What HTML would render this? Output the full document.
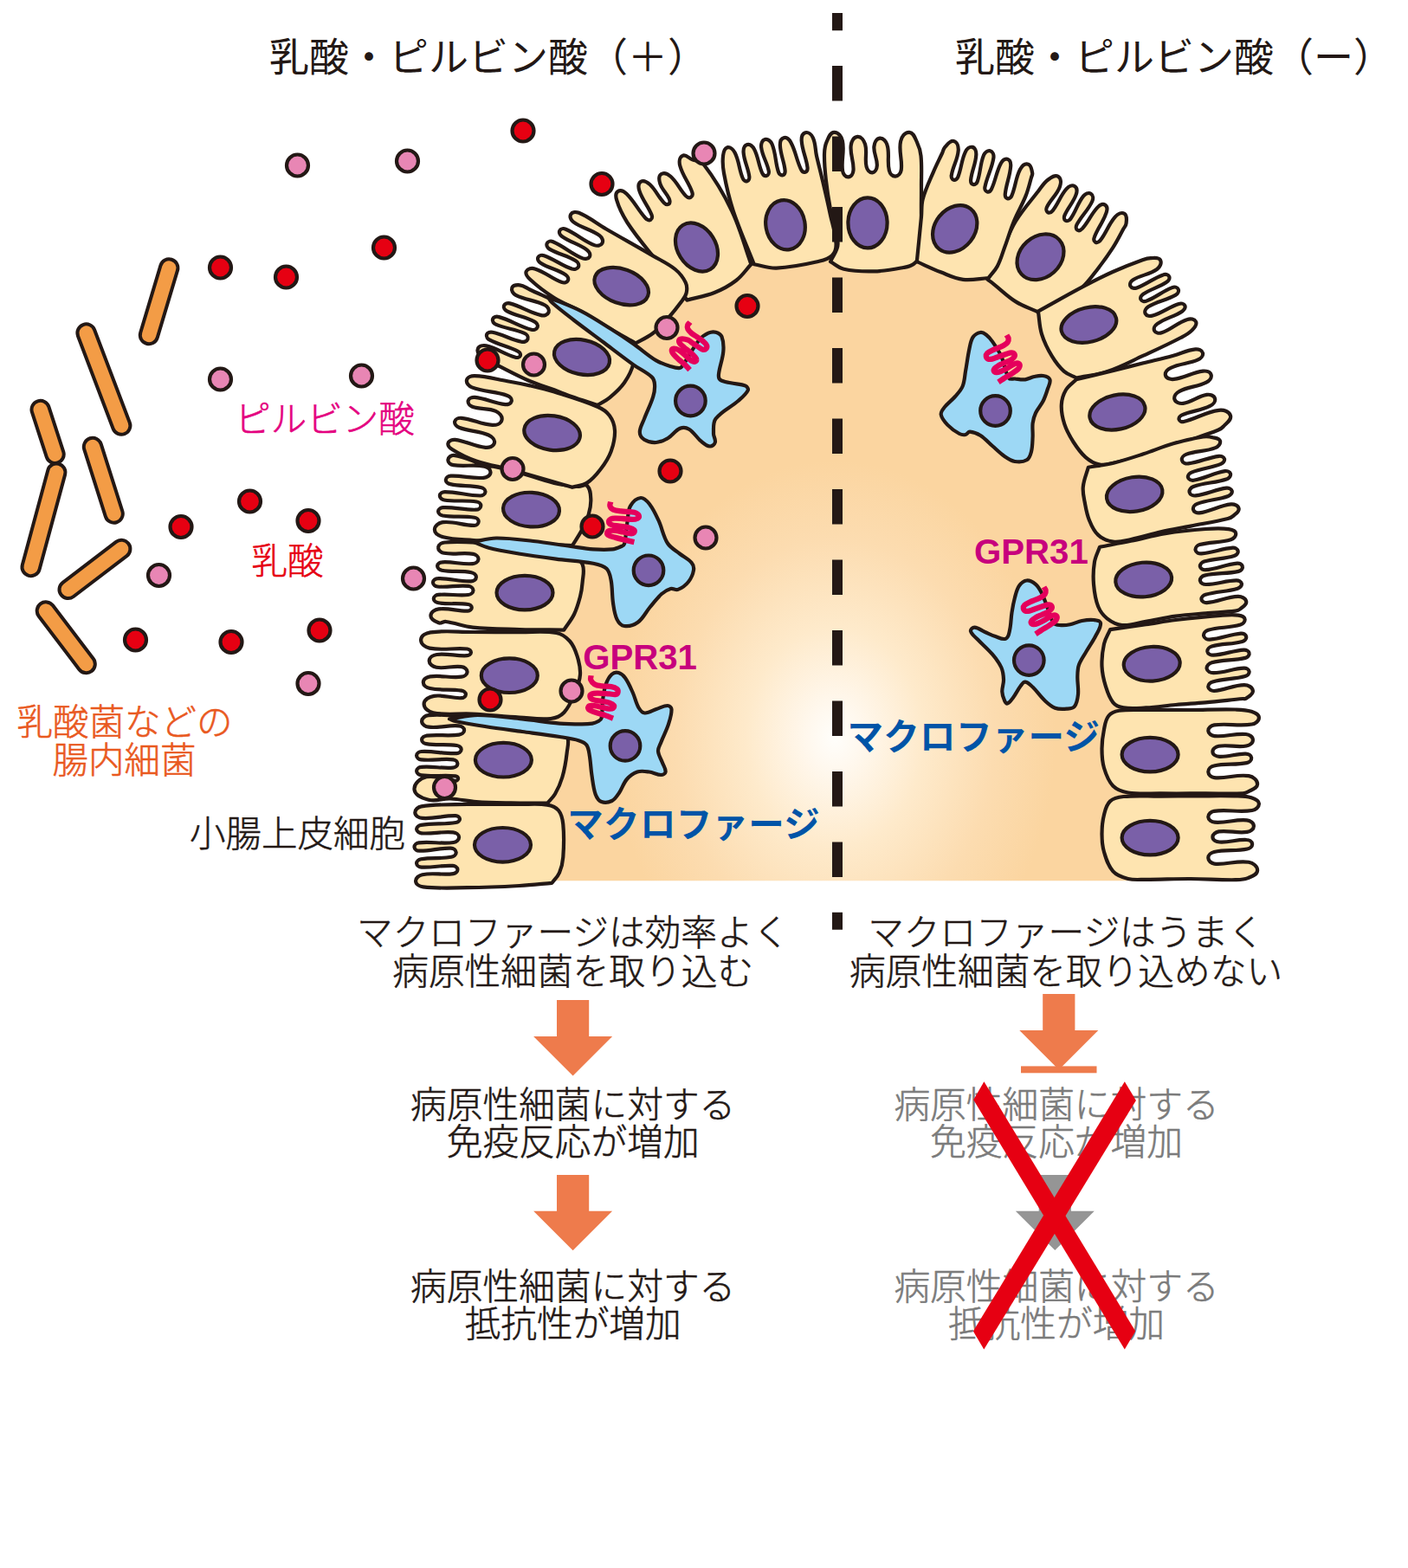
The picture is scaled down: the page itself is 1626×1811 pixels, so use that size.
<!DOCTYPE html>
<html lang="ja"><head><meta charset="utf-8"><title>乳酸・ピルビン酸とマクロファージ</title>
<style>
html,body{margin:0;padding:0;background:#fff}
body{width:1626px;height:1811px;overflow:hidden}
svg{display:block}
text{font-family:"Liberation Sans","Noto Sans CJK JP",sans-serif}

</style></head><body>
<svg width="1626" height="1811" viewBox="0 0 1626 1811">
<defs><radialGradient id="g" gradientUnits="userSpaceOnUse" cx="0" cy="0" r="1" gradientTransform="translate(964 852) scale(255 320)"><stop offset="0" stop-color="#FFFEFB"/><stop offset="0.12" stop-color="#FFF8EE"/><stop offset="0.4" stop-color="#FEEACB"/><stop offset="0.72" stop-color="#FCDCB0"/><stop offset="1" stop-color="#FBD5A0"/></radialGradient></defs>
<path d="M600 1017.3L590 880L595 780L606 684L613 588L638 500L673 412L717 331L804 286L907 262L1003 258L1103 264L1201 297L1258 374L1291 474L1310 570L1321 670L1330 769L1328 871L1328 1017.3Z" fill="url(#g)"/>
<path d="M488.7 1024.3C484.9 1023.8 480.4 1021.7 480.1 1017.8C479.8 1014 483.9 1010.9 487.7 1010.2C500.3 1007.6 510.7 1011 523.5 1009.1C526 1008.7 528.6 1006.6 528.4 1004.2C528.2 1001.7 525.4 1000.1 522.9 999.9C509.9 999.1 499.8 1002.4 486.8 1001.6C484.2 1001.4 481.3 999.8 481.1 997.3C480.9 994.7 483.7 992.7 486.2 992.2C498.6 989.9 508.8 992.2 521.2 989.8C523.9 989.3 526.9 987.1 526.7 984.4C526.5 981.6 523.4 979.7 520.6 979.6C507.5 979.1 497.3 983.1 484.1 982.7C481.6 982.6 478.6 980.9 478.5 978.3C478.4 975.7 481.1 973.6 483.6 973.3C498 971.6 509.5 975 523.8 973C526.9 972.6 530.2 970.1 530.1 966.9C530 963.8 526.5 961.7 523.3 961.4C510.2 960 499.8 963.4 486.6 962.3C484.1 962.1 481.2 960.3 481.1 957.7C481 955.2 483.8 953.3 486.4 952.9C500.7 950.5 512.2 952.3 526.5 950C528.7 949.7 531.1 948.1 531 945.9C530.9 943.7 528.4 942.3 526.2 942.2C512.2 941.9 501.4 946 487.5 944.9C483.8 944.7 479.5 942.4 479.3 938.7C479.1 935 483 932 486.6 931.4C505.6 928.4 520.8 929.4 540 929C561.6 928.5 578.4 928.9 600 929C611.5 929.1 620.6 927.8 632 929.6C637.2 930.4 641.7 932 645 936C648.8 940.7 649.7 946 650.3 952C651.6 965.6 651.3 976.4 650.3 990C649.8 996.6 648.6 1001.9 646 1008C643.9 1012.8 640.5 1015.6 637.4 1019.8C623.9 1021 613.5 1022.3 600 1023C578.4 1024.2 561.6 1025 540 1025.2C521.5 1025.4 507.1 1026.5 488.7 1024.3Z" fill="#FEE4B0" stroke="#231815" stroke-width="4.2" stroke-linejoin="round"/>
<ellipse cx="580.5" cy="975.8" rx="32.5" ry="19.8" transform="rotate(0 580.5 975.8)" fill="#7A60A8" stroke="#231815" stroke-width="4.2"/>
<path d="M494.9 923.7C487.8 921.9 479.1 919.1 478.5 911.8C477.9 904.6 485.4 898.8 492.5 897.3C504.5 894.7 514.1 901.2 526.3 901.8C527.8 901.8 529.2 900.3 529.1 898.9C529 897.5 527.5 896.4 526.1 896.3C511.9 895.1 500.7 897.1 486.5 895.3C484 895 481.1 893.2 481.1 890.6C481.1 888 483.9 886.1 486.5 885.9C499.6 884.6 510 887.8 523.2 886.6C525.7 886.4 528.4 884.5 528.4 882C528.4 879.5 525.8 877.6 523.3 877.3C510.1 875.9 499.6 878.9 486.4 877.4C483.8 877.1 481 875.1 481.1 872.6C481.2 870 484.1 868.1 486.6 868C501.3 867.2 512.7 870.8 527.3 870.1C529.8 870 532.7 868.2 532.7 865.6C532.7 863.1 529.9 861.4 527.4 861C515 859 504.9 861.2 492.5 859.1C489.9 858.7 487.1 857 487.1 854.4C487.1 851.8 490 850.1 492.5 849.7C506 847.9 516.7 850.6 530.1 848.6C532.9 848.2 536.1 846.3 536.1 843.5C536.1 840.7 532.9 838.7 530.1 838.4C517.5 837.2 507.5 841.2 495 839.7C491.3 839.2 487.1 836.7 487.1 833C487.1 829.3 491.1 826.5 494.8 826.1C511 824.6 523.8 826.8 540 828C561.6 829.6 578.4 831.4 600 834C614.5 835.7 625.9 836.4 640 840C645.8 841.5 652 842.6 654.6 848C658.1 855.1 655.4 862.1 654.6 870C653.5 880 652.2 887.8 649.4 897.5C647.3 904.8 644.8 910.4 641 917C638.5 921.3 635.4 923.8 632.2 927.6C617 927.5 605.2 927.7 590 927.4C575.6 927.1 564.4 927 550 926C539.2 925.2 530.9 923 520 922.5C510.9 922.1 503.6 925.9 494.9 923.7Z" fill="#FEE4B0" stroke="#231815" stroke-width="4.2" stroke-linejoin="round"/>
<ellipse cx="581.4" cy="877.7" rx="32.5" ry="19.8" transform="rotate(0 581.4 877.7)" fill="#7A60A8" stroke="#231815" stroke-width="4.2"/>
<path d="M500.3 823.2C495.1 822.1 489.4 818.3 489.6 813C489.8 807.7 495.9 804.6 501.2 803.8C512.4 802 521.3 806.8 532.7 806.2C535.1 806.1 537.8 804.5 537.9 802.1C538 799.7 535.3 798 532.9 797.6C520 795.4 509.3 797.8 496.5 795C492.8 794.2 488.7 791.8 488.8 788C488.9 784.3 493 782 496.7 781.4C509.6 779.6 520 783.3 532.9 781.7C536 781.3 539.5 779.2 539.6 776.1C539.7 772.9 536.3 770.5 533.2 770.1C522.8 768.5 514.3 772.7 503.9 770.8C499.9 770 495.5 767.1 495.7 763.1C495.9 759 500.4 756.6 504.4 756C516.9 754.4 526.8 758 539.4 757.2C541.5 757.1 543.8 755.7 543.9 753.6C544 751.5 541.8 749.8 539.7 749.5C524.1 747.9 511.5 751.7 496.1 748.6C491.1 747.7 485.8 743.9 486.1 738.9C486.4 733.9 492.2 731.2 497.1 730.4C514.2 727.8 527.8 730 545 730C564.8 730 580.2 730 600 730.2C615.3 730.4 627.4 728.3 642.5 731C648.9 732.1 653.6 735.6 658 740.5C662.7 745.7 664.5 751.2 666.6 757.8C668.9 765.2 670.5 771.3 670 779C669.5 786.8 667.1 792.8 664 800C660.4 808.6 657.9 815.9 651.5 822.7C647.3 827.2 642.1 829.3 636 830C623.1 831.5 612.9 829.3 600 828.5C580.2 827.3 564.8 825.6 545 824.5C528.9 823.6 516.1 826.5 500.3 823.2Z" fill="#FEE4B0" stroke="#231815" stroke-width="4.2" stroke-linejoin="round"/>
<ellipse cx="588.3" cy="780.2" rx="32.5" ry="19.8" transform="rotate(0 588.3 780.2)" fill="#7A60A8" stroke="#231815" stroke-width="4.2"/>
<path d="M506.5 719.3C502.4 717.8 497.4 715.7 497.4 711.3C497.4 707 502.3 704 506.6 703.4C518.7 701.8 528.2 706.1 540.4 705.6C542.5 705.5 544.8 703.9 544.8 701.8C544.8 699.7 542.5 698.3 540.5 698C528.2 696.2 518.4 698.3 506.2 696.3C503.6 695.9 500.8 694.1 500.8 691.5C500.8 688.9 503.7 687.2 506.2 686.9C518.6 685.5 528.4 688.5 540.7 687C543.4 686.7 546.4 684.8 546.5 682C546.6 679.3 543.7 677.2 540.9 676.9C528.2 675.4 518 678.8 505.2 677.5C502.7 677.2 499.9 675.2 500 672.6C500.1 670 503 668.1 505.6 668.1C519.4 667.7 530.1 671.9 543.9 671.4C546.7 671.3 549.8 669.4 549.9 666.6C550 663.8 547.1 661.8 544.4 661.2C532.3 658.8 522.3 661 510.2 658.7C507.7 658.2 505 656.3 505.1 653.7C505.2 651.1 508.2 649.5 510.8 649.3C523.4 648.5 533.2 652.2 545.8 651.1C548.8 650.9 552.3 649 552.5 645.9C552.7 642.9 549.5 640.5 546.5 639.9C534.5 637.8 524.7 641.1 512.7 638.8C509.4 638.2 505.8 635.5 506.1 632.2C506.3 628.8 510.3 626.9 513.6 626.5C528.4 624.9 540.1 626 555 627C574.9 628.3 590.3 630.4 610 633C628.1 635.4 642.6 635.7 660 641C665.8 642.8 670.4 646.4 672.7 652C675.4 658.7 673.2 664.8 672.7 672C672.2 678.2 671.6 683 670 689C668 696.5 666.4 702.5 663 709.5C659.6 716.5 655.4 721.1 651.2 727.6C632.8 727.4 618.4 727.5 600 727C580.5 726.4 565.4 726.6 546 724.6C534.7 723.4 526.3 719.5 515 718C511.9 717.6 509.4 720.5 506.5 719.3Z" fill="#FEE4B0" stroke="#231815" stroke-width="4.2" stroke-linejoin="round"/>
<ellipse cx="606" cy="684.6" rx="32.5" ry="19.8" transform="rotate(0 606 684.6)" fill="#7A60A8" stroke="#231815" stroke-width="4.2"/>
<path d="M511.8 620.3C507.3 619 501.9 616.5 501.9 611.8C501.9 607.1 507 603.7 511.7 603.2C524.6 601.8 534.7 607.1 547.7 606.9C550.1 606.8 552.6 604.9 552.7 602.5C552.8 600.1 550.3 598.2 547.9 597.8C534.9 595.6 524.3 597.8 511.2 595.5C508.7 595 505.9 593 506.1 590.4C506.3 587.9 509.2 586.2 511.8 586.1C525.5 585.5 536.1 589.2 549.7 588.7C552.3 588.6 555.1 587 555.3 584.4C555.5 581.9 552.9 579.9 550.4 579.5C537.1 577.3 526.2 579.7 512.9 577.5C510.4 577.1 507.7 574.9 507.9 572.4C508.1 569.8 511.1 568.1 513.7 568.1C528.5 568.1 539.8 572.5 554.6 572.5C557.2 572.5 560.3 570.8 560.5 568.1C560.7 565.5 557.8 563.6 555.2 563C542.8 560.2 532.4 561.9 519.9 559.1C517.4 558.6 514.7 556.7 514.8 554.1C514.9 551.5 517.9 549.9 520.5 549.7C534.2 549 544.9 553 558.5 551.8C562.1 551.5 566.3 549.2 566.5 545.6C566.7 542 562.9 539.3 559.3 538.6C546.6 536 536.2 539.4 523.5 537.1C520.4 536.6 517.2 534.2 517.4 531.1C517.6 528.1 521.1 525.5 524.2 525.9C537.5 527.7 546.9 533.4 560 536.8C571.4 539.7 580.6 540.5 592 543.5C609.4 548.1 622.5 553.7 640 558C649.9 560.4 657.8 561.2 668 562C671.6 562.3 675.5 558.4 678 561C682.1 565.1 682 570.7 682.3 576.5C682.6 582.8 681.6 587.8 679.8 593.8C677.8 600.6 675.3 605.7 672 612C668.5 618.7 665 623.5 661 630C639 628.9 622 628.2 600 627C580.9 626 566.1 625.5 547 624C534.3 623 524.1 623.6 511.8 620.3Z" fill="#FEE4B0" stroke="#231815" stroke-width="4.2" stroke-linejoin="round"/>
<ellipse cx="613.5" cy="588.6" rx="32.5" ry="19.8" transform="rotate(3 613.5 588.6)" fill="#7A60A8" stroke="#231815" stroke-width="4.2"/>
<path d="M712.2 231.2C711.1 227.6 710.5 223 713.6 221C716.7 218.9 720.8 221.1 723.5 223.7C732.8 232.8 736.9 242.7 745.7 252.2C747.2 253.7 749.6 254.9 751.4 253.8C753.2 252.6 753.2 249.9 752.4 247.9C748.3 237.6 741.8 231 738.4 220.4C737.2 216.7 736.8 211.8 740.1 209.8C743.4 207.7 747.5 210.4 750.4 213C757.4 219.4 759.9 227 766.5 233.9C768 235.4 770.4 236.8 772.2 235.7C773.9 234.5 773.6 231.7 772.8 229.7C769.9 223 764.6 219.2 762.4 212.3C761.1 208.4 760.2 203.4 763.5 201.1C766.8 198.8 771.4 201.1 774.4 203.8C782.2 210.6 784.9 219 792.1 226.4C793.6 227.9 796.1 228.9 797.9 227.8C799.7 226.7 800 224.1 799.3 222C795.4 210.6 788.4 203.2 785.3 191.5C784.2 187.3 784.4 181.7 788.3 179.8C792.1 177.8 795.4 182.8 799.5 184.3C804 186.1 809.1 185.2 812 189C826 207.1 835.2 222.6 845 243.3C855.2 264.7 859.3 283 867.4 305.3C861.1 312 857.3 318.4 850 324C841.8 330.3 834.6 334.2 825 338C814 342.4 804.7 343.5 793.3 346.6C787.1 337 783 329 776 320C768.1 309.8 760.2 303.3 752 293.3C741.6 280.6 733.3 270.8 724.4 257C718.9 248.3 715.1 241 712.2 231.2Z" fill="#FEE4B0" stroke="#231815" stroke-width="4.2" stroke-linejoin="round"/>
<ellipse cx="804.5" cy="285.5" rx="30" ry="22" transform="rotate(58 804.5 285.5)" fill="#7A60A8" stroke="#231815" stroke-width="4.2"/>
<path d="M1210.4 207.5C1213.9 204.9 1218.2 201.5 1221.9 203.8C1225.6 206.1 1225.4 211.6 1223.9 215.7C1220.5 225.2 1213.2 230.2 1208.9 239.3C1208 241.3 1208.1 244.1 1209.9 245.2C1211.8 246.3 1214.2 245 1215.6 243.3C1222.3 234.9 1224.4 226.1 1231.6 218.1C1233.9 215.5 1237.9 213.2 1240.9 215C1244 216.8 1243.8 221.4 1242.7 224.7C1239.5 234.1 1233.2 239.7 1229.4 248.9C1228.6 250.8 1228.7 253.6 1230.5 254.7C1232.3 255.8 1234.9 254.6 1236.2 252.9C1242.7 244.1 1244.3 234.9 1251.2 226.4C1253.3 223.9 1257 222 1259.8 223.7C1262.6 225.4 1262.6 229.6 1261.3 232.5C1256.4 243.3 1248.7 249.4 1243.3 259.9C1242.4 261.8 1242.5 264.7 1244.3 265.8C1246.1 266.9 1248.5 265.5 1250 263.9C1257.2 255.8 1260.1 247.3 1267.6 239.4C1269.8 237.1 1273.4 235 1276.1 236.6C1278.9 238.3 1278.7 242.4 1277.7 245.4C1274.2 256.2 1267.9 263.1 1263.9 273.8C1263.1 275.8 1263.1 278.5 1264.9 279.6C1266.8 280.7 1269.2 279.4 1270.6 277.7C1277.8 268.6 1280.1 259 1287.9 250.4C1290.6 247.4 1295.1 244.8 1298.5 246.8C1302 248.9 1300.9 253.8 1300.6 257.8C1300.4 260.7 1298.4 262.5 1297 265C1292.8 272.8 1289.8 279 1285 286.4C1279.2 295.4 1274.3 302.1 1267.8 310.5C1261.3 318.9 1256.6 325.8 1248.8 333C1241.1 340.1 1234.2 344.9 1225 350C1216.1 354.9 1208.3 356.7 1198.9 360.5C1189.6 356.1 1181.7 353.9 1173 348.4C1163 342 1156.5 335.2 1147.2 327.8C1144.8 325.9 1142.8 324.5 1140.3 322.6C1144 317 1147.7 313 1150.7 307C1154.6 299.3 1155.9 292.6 1159.3 284.7C1163.9 274 1166.9 265.3 1173 255.4C1181.2 242.2 1189.4 233.2 1198.9 221C1202.8 216 1205.3 211.3 1210.4 207.5Z" fill="#FEE4B0" stroke="#231815" stroke-width="4.2" stroke-linejoin="round"/>
<ellipse cx="1201.5" cy="296.8" rx="29.5" ry="23.5" transform="rotate(-42 1201.5 296.8)" fill="#7A60A8" stroke="#231815" stroke-width="4.2"/>
<path d="M522.5 519.3C519.8 517.6 516.7 515 517.5 511.9C518.4 508.7 522.4 507.6 525.6 507.9C538.5 509.4 547.7 515.7 560.6 516.8C564.7 517.2 569.9 515.8 570.9 511.8C571.9 507.8 568 504.2 564.2 502.5C552.7 497.4 542 498.4 530.2 493.7C527.4 492.5 524.5 489.8 525.2 486.8C525.9 483.8 529.7 482.5 532.8 482.8C545.9 484 555.4 490.3 568.5 490.9C573 491.1 578.5 489.5 579.5 485.1C580.6 480.8 576.6 476.7 572.5 474.8C563.5 470.8 554.8 473.3 545.5 469.8C542.7 468.7 540 465.7 540.7 462.7C541.5 459.8 545.3 458.6 548.4 458.9C561.3 460.3 570.6 465.7 583.5 467.1C586.4 467.4 590 466.3 590.7 463.5C591.4 460.7 588.8 457.9 586 456.9C571.7 451.9 559.2 452.8 545 447.4C541.6 446.1 538.2 442.6 539 439C539.9 435.4 544.5 434.1 548.2 434.2C562 434.6 572.4 437.8 586 440.2C595.4 441.8 602.7 443.3 612 445.4C622.1 447.7 630.1 449.5 640 452.6C658.2 458.3 672.5 462.3 690 469.8C695.7 472.2 700.2 475 703.9 480C707.8 485.3 709.7 490.7 710 497.3C710.4 506.1 708.7 513.1 705.6 521.4C702.6 529.5 698.7 535.2 693.5 542C688.7 548.3 684.7 553.4 678 557.6C672.5 561.1 667 560.9 660.8 562.8C636 555.7 616.9 549.8 592 543C577 538.9 564.8 537.5 550 532.5C539.6 529 531.8 525.2 522.5 519.3Z" fill="#FEE4B0" stroke="#231815" stroke-width="4.2" stroke-linejoin="round"/>
<ellipse cx="637.6" cy="500" rx="32.5" ry="19.8" transform="rotate(8 637.6 500)" fill="#7A60A8" stroke="#231815" stroke-width="4.2"/>
<path d="M556.6 412.1C553.7 409.8 550.4 406.4 551.8 403C553.1 399.5 557.8 398.6 561.5 399.4C574.2 402.3 582.7 409.1 595.3 412.7C597.3 413.3 600.1 412.7 600.9 410.7C601.6 408.7 599.8 406.5 597.9 405.6C586.7 399.9 576.6 398.5 565.6 392.7C563.3 391.5 561.2 388.9 562 386.5C562.8 384 566.1 383.3 568.6 383.8C581.1 386.3 589.7 392.2 602.2 394.7C605 395.2 608.6 394.4 609.5 391.7C610.4 389 608.2 386 605.6 384.9C594.3 379.7 583.9 379.8 572.5 374.7C570.2 373.7 568.1 370.9 569 368.5C569.8 366.1 573.2 365.2 575.6 365.9C589.8 369.7 599.4 376.9 613.6 380.7C616.3 381.4 619.8 380.5 620.7 377.9C621.6 375.3 619.4 372.6 617 371.3C606.2 365.6 596.2 364.9 585.5 359.3C583.2 358.1 581.1 355.4 582 353C582.9 350.6 586.2 349.8 588.7 350.4C602.2 353.9 611.3 361 624.9 364.1C628.1 364.9 632.4 363.9 633.6 360.8C634.8 357.6 632.3 354 629.4 352.5C618 346.5 607 346.8 595.6 340.8C592.6 339.2 590.1 335.5 591.3 332.4C592.6 329.3 596.9 329 600.3 329.3C604.9 329.8 607.8 332.6 612 334.5C629.3 342.5 642.9 348.4 660 357C686.6 370.3 706.8 381.5 733.2 395.3C732.6 404.2 733.8 411.4 731.5 420C729.3 428.5 726 434.8 721 442C716 449.2 710.6 453.8 703.9 459.4C699.4 463.2 695 464.9 690 468C679.2 464.4 670.7 461.8 660 458C652.7 455.4 647.2 453 640 450.3C630 446.6 621.8 444.5 612 440.3C599.3 434.8 589.8 429.7 577.5 423.4C569.9 419.5 563.3 417.4 556.6 412.1Z" fill="#FEE4B0" stroke="#231815" stroke-width="4.2" stroke-linejoin="round"/>
<ellipse cx="672" cy="412.5" rx="32.5" ry="19.8" transform="rotate(12 672 412.5)" fill="#7A60A8" stroke="#231815" stroke-width="4.2"/>
<path d="M612.2 322.8C609.5 320.3 606.3 316.9 607.7 313.5C609.2 310.1 614 309.3 617.6 310.4C629.7 314 637.1 321.9 649 326.1C651.5 326.9 654.9 326.2 655.9 323.9C657 321.5 655.2 318.6 653 317.2C643.4 311.1 633.9 309.9 624.3 303.7C622.1 302.4 620.3 299.5 621.4 297.2C622.5 294.9 625.9 294.4 628.3 295.2C640.4 299.4 648.3 306.5 660.4 310.6C663.1 311.4 666.7 310.9 667.9 308.4C669.1 305.9 667.3 302.7 664.9 301.2C654.8 294.9 644.7 293.8 634.5 287.6C632.3 286.2 630.6 283.2 631.8 280.9C632.9 278.6 636.3 278.2 638.7 279.2C651.7 284.7 659.8 293.1 672.9 298.4C675.6 299.5 679.5 299 680.9 296.4C682.2 293.7 680.3 290.4 677.9 288.7C668.4 281.7 658.6 279.9 648.9 273C646.8 271.5 645.1 268.6 646.4 266.3C647.6 264 651 263.7 653.3 264.7C665.9 270 673.6 278.2 686.3 283.1C689.4 284.3 693.8 284 695.4 281C697.1 278.1 695.2 274.1 692.5 272.1C682.6 264.8 672 263.7 662.2 256.4C659.4 254.4 657.5 250.4 659.2 247.5C660.9 244.6 665.3 244.5 668.5 245.8C680.7 250.9 688.6 257.9 700 264.5C719.3 275.7 734.6 284.1 753.9 295.4C763.3 300.9 771.3 304.1 779.7 311C785.2 315.5 788.8 320 791.8 326.4C793.7 330.4 793.6 334.2 792.6 338.5C791.6 342.7 789.1 345.3 786.6 348.8C781.1 356.3 776.5 362 770.2 369C764.7 375.1 760.4 380 753.9 385C747.3 390 741.2 392.4 734 396.5C724.1 390.8 716.3 386.6 706.5 380.8C693.9 373.4 684.5 367.1 671.7 360C660.5 353.8 650.8 350.8 640 344C629.3 337.3 621.4 331.4 612.2 322.8Z" fill="#FEE4B0" stroke="#231815" stroke-width="4.2" stroke-linejoin="round"/>
<ellipse cx="717.7" cy="330.7" rx="32.5" ry="19.8" transform="rotate(20 717.7 330.7)" fill="#7A60A8" stroke="#231815" stroke-width="4.2"/>
<path d="M835 180.2C835.5 176.3 835.9 171.5 839.6 170.4C843.3 169.4 846.8 172.8 848.6 176.3C853.7 186.2 853.4 195.7 857.8 206C858.6 207.9 860.7 209.8 862.8 209.2C864.8 208.6 865.6 206 865.3 203.8C864 193.6 859.3 186.3 858.6 176C858.4 172.4 859.4 168 862.8 167C866.2 166 869.4 169.3 871.1 172.4C875.9 181.6 875.8 190.3 880.2 199.8C881.1 201.7 883.1 203.6 885.2 203C887.2 202.5 888.2 199.8 887.8 197.7C885.9 187.4 880.3 180.3 879.1 169.9C878.7 166.4 880 161.9 883.4 161C886.9 160.1 890.3 163.3 891.6 166.5C896.2 177.6 895.2 187.7 899.1 199C899.8 201 902 202.9 904.1 202.3C906.1 201.7 906.8 199.1 906.6 196.9C905.6 186.4 901.3 178.7 900.9 168.2C900.7 164.6 901.6 160.2 905 159.2C908.4 158.2 911.6 161.4 913.3 164.6C919 175 919.8 184.9 925 195.6C925.9 197.5 927.9 199.4 930 198.8C932 198.2 932.7 195.5 932.5 193.4C931.1 182.1 926.4 173.9 925.7 162.6C925.5 158.9 926.4 154.3 930 153.2C933.6 152.2 937.1 155.4 938.7 158.8C942.1 165.8 941.3 172.4 943 180C945.4 190.4 947.6 198.5 950 208.9C953.2 222.5 955.7 233.1 958.6 246.8C961.2 259.2 964.9 268.6 965.5 281.2C965.8 286.4 964.7 291.3 961 295C956.6 299.5 951.1 300.6 945 302C927.8 305.9 914.2 308.8 896.6 309.6C887.2 310 880.1 306.8 870.8 305.3C862.1 283 854.2 266 846.7 243.3C841.7 228.1 838.9 215.8 836 200C834.7 193 834.2 187.3 835 180.2Z" fill="#FEE4B0" stroke="#231815" stroke-width="4.2" stroke-linejoin="round"/>
<ellipse cx="907" cy="259.7" rx="28.8" ry="22.6" transform="rotate(80 907 259.7)" fill="#7A60A8" stroke="#231815" stroke-width="4.2"/>
<path d="M954.7 163.7C956.7 159.2 958.3 153 963.3 152.8C968.3 152.6 971.9 158 972.9 162.8C975.6 175 971.1 185.2 973.1 197.5C973.6 200.9 976.3 204.6 979.7 204.4C983.2 204.2 985.2 200.1 985.5 196.7C986.3 186.3 981.4 178.3 982.7 168C983.2 163.5 985.7 158.2 990.2 157.9C994.7 157.5 997.8 162.4 999.1 166.7C1001.8 175.6 998.3 183.5 1000.6 192.6C1001.4 195.9 1004 199.6 1007.4 199.3C1010.8 199 1012.6 194.8 1012.8 191.4C1013.4 183.4 1008.6 177.3 1009.4 169.3C1009.8 165.1 1011.9 160.2 1016 159.7C1020.2 159.2 1023.5 163.5 1024.6 167.6C1027.6 177.8 1024.2 186.8 1026.9 197.1C1027.7 200.5 1030.5 203.7 1034 203.6C1037.4 203.5 1040.1 200.1 1040.7 196.7C1042.5 184.7 1037.5 174.9 1040.1 163.1C1041.2 158 1044.9 152.5 1050.1 152.8C1055.2 153.1 1056.6 159.5 1058.9 164.1C1061.5 169.5 1062.9 174.1 1063.5 180C1064.8 192.9 1063.9 203 1064 216C1064.1 228.4 1063.7 238.1 1064 250.5C1064.3 259.8 1065.7 267.1 1065.7 276.4C1065.7 282.6 1066.2 287.8 1064 293.6C1062.2 298.5 1059.2 301.9 1055 305C1051.4 307.7 1047.7 308.2 1043.3 309C1031 311.2 1021.4 313.1 1008.9 313.4C996.4 313.7 986.6 313.5 974.4 310.8C968.2 309.4 964.5 305.3 959 302.2C962.1 294.7 967.6 289.6 967.6 281.5C967.6 266.9 961.7 256.3 959 242C956.7 229.7 955.2 220 953.8 207.5C952.6 196.9 951.8 188.6 952 178C952.1 172.8 952.5 168.5 954.7 163.7Z" fill="#FEE4B0" stroke="#231815" stroke-width="4.2" stroke-linejoin="round"/>
<ellipse cx="1002" cy="257.4" rx="29" ry="22.6" transform="rotate(90 1002 257.4)" fill="#7A60A8" stroke="#231815" stroke-width="4.2"/>
<path d="M1091.3 169.8C1094.3 166.7 1097.1 161.9 1101.4 163C1105.6 164.1 1107 169.6 1106.7 173.9C1106 184.6 1100.4 191.9 1098.8 202.5C1098.4 204.6 1099.3 207.3 1101.4 207.8C1103.4 208.4 1105.4 206.4 1106.3 204.4C1110.4 194.4 1110.1 185.3 1114.8 175.6C1116.3 172.4 1119.4 169.1 1122.9 169.9C1126.3 170.8 1127.5 175.2 1127.3 178.8C1126.8 189.4 1122.2 197.1 1121.1 207.7C1120.9 209.9 1121.7 212.5 1123.8 213C1125.8 213.6 1128 211.7 1128.7 209.7C1132.5 199.1 1131.7 189.7 1136 179.2C1137.3 176.3 1140.3 173.4 1143.5 174.2C1146.6 175.1 1147.8 179.1 1147.4 182.3C1145.6 194.9 1139.8 203.7 1137.4 216.2C1137 218.3 1138 221 1140 221.5C1142.1 222.1 1144.1 220.2 1145 218.3C1149.9 208 1150.5 198.7 1155.8 188.7C1157.4 185.8 1160.2 182.9 1163.3 183.7C1166.4 184.6 1167.4 188.6 1167.2 191.8C1166.4 203.6 1162 212.2 1160.8 224C1160.6 226.1 1161.3 228.7 1163.3 229.3C1165.4 229.9 1167.5 228 1168.3 226.1C1172.9 215.6 1172.7 206 1178 195.8C1179.9 192.3 1183.5 188.6 1187.4 189.7C1191.3 190.8 1191.2 196 1192.2 199.9C1192.6 201.7 1191.5 203.2 1191 205C1188.8 212.7 1187.5 218.9 1184.5 226.4C1180.2 237.2 1175.2 244.9 1170.8 255.7C1166.5 266.1 1164.3 274.5 1160.4 285C1157.4 293.1 1155.8 299.8 1151.8 307.4C1148.9 312.8 1145.2 316.1 1141.5 321C1131 321.7 1122.7 324.2 1112.2 322.9C1102.5 321.7 1095.5 317.8 1086.4 314.3C1076.3 310.4 1068.7 306.6 1058.8 302.2C1060.7 283.4 1062.2 268.8 1064 250C1064.7 242.8 1063.8 236.9 1065.7 229.9C1068.8 218.3 1073.1 209.9 1077.8 198.9C1081.2 190.9 1084.3 184.9 1088 177C1089.2 174.4 1089.4 171.9 1091.3 169.8Z" fill="#FEE4B0" stroke="#231815" stroke-width="4.2" stroke-linejoin="round"/>
<ellipse cx="1102.7" cy="264.3" rx="29.5" ry="23" transform="rotate(-52 1102.7 264.3)" fill="#7A60A8" stroke="#231815" stroke-width="4.2"/>
<path d="M1329 298.1C1333 298.1 1338 296.9 1340 300.4C1341.9 304 1339.4 308.6 1336.1 311C1327.2 317.4 1317.4 317.5 1308.1 323.4C1305.8 324.9 1304.3 328.1 1305.5 330.5C1306.8 332.9 1310.2 333.3 1312.8 332.4C1324.3 328.4 1331.7 321.4 1343.2 317.4C1345.6 316.5 1349 316.9 1350.1 319.2C1351.3 321.5 1349.5 324.4 1347.3 325.8C1338.3 332 1329.2 333.6 1320.1 339.7C1318.1 341.1 1316.4 343.8 1317.5 345.9C1318.6 348.1 1321.8 348.5 1324 347.6C1335.3 343.3 1342.4 336.4 1353.7 332.1C1356.1 331.2 1359.5 331.6 1360.6 333.9C1361.8 336.2 1360.1 339.2 1357.9 340.6C1347.1 346.9 1336.7 347.7 1326 354.2C1323.4 355.9 1321.3 359.4 1322.7 362.2C1324.1 365 1328.1 365.4 1331.1 364.5C1342.6 361.2 1350 354.5 1361.4 350.9C1363.9 350.1 1367.2 350.5 1368.3 352.8C1369.4 355.1 1367.6 357.9 1365.4 359.4C1355.8 365.8 1346.1 367.2 1336.6 373.9C1334 375.7 1331.8 379 1333.1 381.9C1334.4 384.7 1338.5 385.3 1341.5 384.3C1352.9 380.4 1359.7 372.5 1371.2 368.9C1374.7 367.7 1379.5 368.3 1381.1 371.7C1382.7 375.1 1379.5 378.4 1376.9 381.1C1372.9 385.3 1368.7 387.3 1363.6 390C1348.4 398 1336.1 403.5 1320.5 410.7C1305.1 417.8 1293.5 424.3 1277.5 429.6C1265.5 433.6 1255.4 434 1243 436.5C1237.9 433.8 1233.1 432.7 1228.8 428.9C1222.9 423.6 1219.1 418.5 1215 411.7C1209.7 402.9 1206 395.6 1203 385.8C1200.2 376.7 1200.4 369 1198.9 359.6C1217.5 349.4 1231.8 341.1 1250.5 331.2C1262.8 324.7 1272.3 319.7 1285 314C1297.2 308.5 1306.9 304.7 1319.4 300.2C1322.7 299 1325.5 298 1329 298.1Z" fill="#FEE4B0" stroke="#231815" stroke-width="4.2" stroke-linejoin="round"/>
<ellipse cx="1257.4" cy="375" rx="32.5" ry="19.8" transform="rotate(-14 1257.4 375)" fill="#7A60A8" stroke="#231815" stroke-width="4.2"/>
<path d="M1380.6 403.4C1383.9 403.1 1388.1 404.4 1389 407.7C1389.8 411 1386.6 414 1383.6 415.4C1372.9 420.4 1362.8 419.6 1352.1 424.8C1348.7 426.4 1344.9 429.8 1346 433.6C1347 437.3 1352 438.4 1355.8 437.9C1368.2 436.5 1376.8 430.1 1389.2 428.6C1392.8 428.2 1397.5 429.3 1398.6 432.8C1399.7 436.4 1396.4 439.9 1393.1 441.6C1382.7 447 1372.6 446.3 1362.2 451.8C1358.7 453.7 1355.3 457.4 1356.4 461.2C1357.5 465 1362.4 466.4 1366.4 465.9C1376.7 464.4 1383.3 457.5 1393.6 455.9C1397.3 455.3 1402 456.7 1403 460.3C1404 463.8 1400.7 467.3 1397.3 468.9C1386.4 474.4 1376.1 474.5 1364.9 479.4C1362.9 480.3 1361 482.4 1361.6 484.5C1362.2 486.6 1364.9 487.5 1367 487C1382 483.5 1392.3 475.7 1407.6 473.8C1412.9 473.1 1419.5 474.9 1421 480.1C1422.4 485.2 1416.3 488.4 1412.9 492.5C1411.1 494.5 1409.1 495.8 1406.6 496.8C1394.4 501.7 1384.6 504.6 1372.2 508.8C1353.6 515.1 1339.3 520.4 1320.5 526C1308.2 529.7 1298.6 532.2 1286 534.7C1279.9 535.9 1275 537.7 1268.9 536.4C1262.7 535.1 1258.2 532 1253.4 527.8C1247.4 522.5 1243.9 517.2 1239.6 510.5C1235.2 503.5 1231.8 497.8 1229.3 489.9C1226.8 482.1 1225.4 475.7 1225.8 467.5C1226.1 461 1227.7 455.9 1231 450.3C1234.1 445 1238.7 442.6 1243 438.2C1258.5 434.5 1270.5 431.7 1286 427.9C1298.4 424.9 1308.1 422.4 1320.5 419.3C1332.9 416.2 1342.6 414 1355 410.7C1364.3 408.3 1371 404.3 1380.6 403.4Z" fill="#FEE4B0" stroke="#231815" stroke-width="4.2" stroke-linejoin="round"/>
<ellipse cx="1290.4" cy="476" rx="32.5" ry="19.8" transform="rotate(-12 1290.4 476)" fill="#7A60A8" stroke="#231815" stroke-width="4.2"/>
<path d="M1400.5 505.2C1403.8 506 1408.1 506.1 1409 509.3C1409.8 512.6 1406.8 515.9 1403.7 517.1C1392 521.8 1381.4 520.5 1369.6 524.9C1366.8 526 1364.2 528.9 1365 531.7C1365.7 534.6 1369.4 535.8 1372.3 535.4C1385.3 533.9 1394.6 528.5 1407.6 526.8C1410.1 526.5 1413.3 527.5 1414 530C1414.6 532.5 1412.3 534.9 1409.9 535.9C1398.2 540.7 1387.8 540.8 1376 545.6C1373.7 546.6 1371.3 549 1372 551.5C1372.6 554 1375.9 555.1 1378.4 554.7C1391.8 552.3 1401.2 546.4 1414.5 544.1C1417.1 543.7 1420.3 544.8 1421 547.2C1421.6 549.7 1419.4 552.3 1417 553.2C1403.4 557.9 1391.7 557.2 1378.2 562C1375.4 563 1372.9 565.9 1373.7 568.7C1374.4 571.5 1378 572.7 1380.9 572.4C1393.9 570.9 1403.3 565.4 1416.3 563.7C1418.8 563.4 1422 564.5 1422.7 567C1423.3 569.5 1421 572 1418.5 572.9C1406 577.5 1395.1 577.1 1382.6 581.9C1379.9 582.9 1377.3 585.6 1378 588.5C1378.6 591.3 1382.2 592.8 1385 592.4C1398.6 590.5 1408 583.9 1421.6 582.4C1425.3 582 1429.9 583.7 1430.6 587.3C1431.4 591 1427.2 593.1 1424.5 595.6C1422.5 597.4 1420.6 598.4 1418 599C1402.7 602.7 1390.5 604.5 1375 607.6C1362.6 610.1 1352.9 611.6 1340.5 614.4C1328 617.2 1318.5 620.5 1306 623C1298.7 624.5 1292.8 626.6 1285.4 625.6C1278.7 624.7 1273.2 622.5 1268.2 617.9C1262.8 613.1 1260.6 607.4 1257.9 600.7C1255 593.6 1254.1 587.6 1252.7 580C1251.5 573.7 1250.1 568.6 1250.8 562.2C1251.6 553.9 1254.6 547.9 1256.8 539.8C1267.3 538 1275.6 537.2 1286 534.7C1298.6 531.6 1308.2 528.3 1320.5 524.3C1333 520.2 1342.4 515.9 1355 512.3C1367.2 508.8 1376.9 506.5 1389.4 504.5C1393.4 503.9 1396.6 504.2 1400.5 505.2Z" fill="#FEE4B0" stroke="#231815" stroke-width="4.2" stroke-linejoin="round"/>
<ellipse cx="1310.2" cy="570.8" rx="32.5" ry="19.8" transform="rotate(-9 1310.2 570.8)" fill="#7A60A8" stroke="#231815" stroke-width="4.2"/>
<path d="M1418.9 611.1C1422.3 611.6 1426.5 612.4 1427.1 615.7C1427.8 619 1424.7 622.2 1421.4 623.2C1408.9 627.2 1398 625.4 1385.4 629.1C1382.7 629.9 1380.1 632.6 1380.6 635.4C1381.2 638.2 1384.6 639.6 1387.4 639.4C1400.6 638.6 1410.4 633.7 1423.6 632.7C1426.1 632.5 1429.3 633.8 1429.7 636.4C1430.2 638.9 1427.7 641.2 1425.3 642C1413.1 645.8 1402.7 644.8 1390.5 648.6C1388 649.4 1385.5 651.8 1385.9 654.4C1386.4 657 1389.6 658.4 1392.2 658.2C1405.6 657 1415.4 651.8 1428.8 650.6C1431.4 650.4 1434.5 651.8 1434.9 654.3C1435.4 656.9 1432.9 659.3 1430.4 659.9C1416.5 663.1 1404.9 661.2 1391 664.6C1388.2 665.2 1385.5 667.9 1385.9 670.7C1386.4 673.6 1389.8 675 1392.7 675C1405.5 674.9 1415.1 670.6 1427.9 670.4C1430.4 670.4 1433.5 671.7 1433.9 674.2C1434.3 676.8 1431.8 678.9 1429.3 679.7C1416.3 683.6 1405.2 682.9 1392.2 686.8C1389.7 687.5 1387.1 689.8 1387.5 692.3C1387.9 694.9 1391.1 696.4 1393.7 696.1C1406.9 695.1 1416.5 689.3 1429.7 688.9C1433.7 688.8 1438.6 690.9 1439.2 694.8C1439.9 698.8 1435.1 700.8 1432.1 703.5C1430.4 704.9 1428.7 705.4 1426.6 705.7C1414.3 707.2 1404.6 707.2 1392.2 708.3C1379.8 709.4 1370.1 710 1357.8 711.7C1345.3 713.4 1335.7 715.7 1323.3 717.8C1313.4 719.4 1305.8 722.8 1295.8 722C1289 721.5 1283.9 718.5 1278.5 714.3C1273.6 710.5 1270.5 706.3 1268.2 700.5C1264.7 691.7 1263.8 684.1 1263 674.7C1262.2 665.4 1262.5 658.1 1264 648.9C1265.1 642.4 1267.8 637.9 1270 631.7C1283 629.2 1293.1 627.4 1306 624.8C1320.3 621.9 1331.3 618.5 1345.7 616.2C1362.3 613.5 1375.4 612.2 1392.2 611C1401.8 610.3 1409.4 609.8 1418.9 611.1Z" fill="#FEE4B0" stroke="#231815" stroke-width="4.2" stroke-linejoin="round"/>
<ellipse cx="1320.7" cy="669.5" rx="32.5" ry="19.8" transform="rotate(-5 1320.7 669.5)" fill="#7A60A8" stroke="#231815" stroke-width="4.2"/>
<path d="M1430.1 710.6C1433.1 711 1436.9 711.7 1437.5 714.7C1438.2 717.7 1435.4 720.6 1432.4 721.6C1419.4 725.6 1408.1 723.9 1395.1 727.8C1392.2 728.7 1389.6 731.5 1390.1 734.4C1390.7 737.3 1394.2 738.8 1397.1 738.6C1410.3 737.8 1420 732.7 1433.1 731.6C1435.7 731.4 1438.8 732.8 1439.2 735.4C1439.7 737.9 1437.2 740.2 1434.7 740.9C1422.3 744.4 1411.8 742.9 1399.4 746.5C1396.7 747.3 1394 749.8 1394.4 752.6C1394.9 755.3 1398.3 756.8 1401.1 756.7C1414 756.1 1423.6 751.3 1436.5 750.6C1439.1 750.5 1442.2 751.8 1442.6 754.3C1443.1 756.9 1440.6 759.2 1438.1 759.9C1424.4 763.3 1412.9 761.5 1399.4 765.3C1396.3 766.2 1393.1 769.1 1393.6 772.3C1394.1 775.6 1398 777.2 1401.3 777.2C1414.2 777 1423.7 772.2 1436.6 771.7C1439.1 771.6 1442.2 773 1442.6 775.5C1443 778.1 1440.5 780.3 1438 781C1424.8 784.7 1413.6 783.5 1400.5 787.4C1397.7 788.2 1394.9 790.6 1395.3 793.5C1395.7 796.3 1399.1 798.1 1402 798C1414.8 797.2 1424.1 791.1 1436.9 791.1C1441.2 791.1 1446.4 793.5 1446.9 797.9C1447.4 802.2 1442.2 804.2 1438.8 806.9C1437.8 807.6 1436.6 806.9 1435.3 807C1419.8 808.5 1407.7 809.9 1392.2 811.3C1379.8 812.4 1370.2 812.9 1357.8 814C1345.4 815.1 1335.8 816.7 1323.3 817.4C1314 817.9 1306.7 818.9 1297.5 817.4C1292.7 816.6 1288.5 815.1 1285.4 811.3C1280.6 805.5 1279 799.5 1276.8 792.4C1274.3 784.3 1272.8 777.8 1272.5 769.4C1272.2 760.1 1273 752.7 1275 743.6C1276.4 737.3 1279.5 733.1 1282 727.2C1296.9 725 1308.4 723.4 1323.3 721.2C1335.7 719.4 1345.3 717.5 1357.8 716C1376.3 713.8 1390.8 712.3 1409.4 710.9C1416.8 710.3 1422.7 709.6 1430.1 710.6Z" fill="#FEE4B0" stroke="#231815" stroke-width="4.2" stroke-linejoin="round"/>
<ellipse cx="1330.2" cy="766.8" rx="32.5" ry="19.8" transform="rotate(-3 1330.2 766.8)" fill="#7A60A8" stroke="#231815" stroke-width="4.2"/>
<path d="M1445.1 821.8C1448.9 823.1 1453.7 824.7 1453.9 828.7C1454.1 832.7 1449.8 835.9 1445.8 836.5C1430.3 839.1 1417.7 835.1 1402.2 837.4C1398.8 837.9 1395.1 840.6 1395.3 844.1C1395.5 847.5 1399.3 849.8 1402.8 850.1C1415.7 851.3 1425.9 846.7 1438.9 848C1442.6 848.3 1446.8 850.8 1446.9 854.5C1447 858.2 1443 860.8 1439.4 861.5C1428.1 863.6 1418.7 859.8 1407.4 861.8C1404 862.4 1400.2 864.9 1400.4 868.3C1400.6 871.8 1404.8 873.7 1408.2 873.9C1419.2 874.5 1427.6 870.2 1438.6 870.6C1441.5 870.7 1444.9 872.3 1445.2 875.2C1445.5 878.1 1442.5 880.5 1439.7 881.1C1426.3 883.9 1415.2 881.3 1401.9 884.5C1398.5 885.2 1395.2 888 1395.3 891.5C1395.4 894.9 1398.8 897.8 1402.2 898.1C1416.5 899.6 1427.9 894 1442.1 896.2C1447 897 1452.4 900.9 1452.1 905.9C1451.8 910.9 1445.4 911.8 1441.2 914.5C1439.3 915.7 1437.5 916.3 1435.3 916.4C1419.8 917 1407.7 916.4 1392.2 916.4C1373.6 916.4 1359.1 916.6 1340.5 916.4C1326.9 916.3 1316.1 917.6 1302.7 915.5C1296 914.4 1290.2 912.7 1285.4 907.8C1279.6 901.8 1277.4 895 1275 887C1272.7 879.3 1272.5 872.8 1272.5 864.7C1272.5 856.6 1273.4 850.2 1275 842.3C1276.2 836.5 1276.6 831.4 1280.3 826.8C1283.3 823 1287.5 821.6 1292.3 820.8C1303.3 819.1 1312.1 820.1 1323.3 820C1341.9 819.8 1356.4 820.1 1375 820C1393.6 819.9 1408 819 1426.6 819.5C1433.3 819.7 1438.7 819.7 1445.1 821.8Z" fill="#FEE4B0" stroke="#231815" stroke-width="4.2" stroke-linejoin="round"/>
<ellipse cx="1328.1" cy="871.6" rx="32.5" ry="19.8" transform="rotate(0 1328.1 871.6)" fill="#7A60A8" stroke="#231815" stroke-width="4.2"/>
<path d="M1445 921.3C1448.8 922.5 1453.7 924.1 1453.9 928.1C1454.2 932.2 1449.9 935.3 1445.9 936C1430.4 938.6 1417.7 934.5 1402.1 936.8C1398.7 937.4 1395.2 940.1 1395.3 943.6C1395.5 947 1399.3 949.4 1402.7 949.7C1416.1 950.8 1426.6 946.1 1439.9 947.4C1443.6 947.7 1447.8 950.2 1447.9 954C1448 957.7 1444 960.3 1440.3 960.9C1428.6 962.8 1419.2 958.7 1407.5 960.4C1404.1 961 1400.2 963.5 1400.4 966.9C1400.6 970.4 1404.7 972.3 1408.2 972.5C1419.5 973.4 1428.2 969.3 1439.6 970C1442.5 970.1 1445.8 971.8 1446.1 974.7C1446.4 977.6 1443.4 979.9 1440.5 980.5C1426.9 983.4 1415.5 980.9 1402 984C1398.6 984.8 1395.2 987.5 1395.3 990.9C1395.4 994.4 1398.8 997.2 1402.3 997.6C1416.5 999 1427.9 993.6 1442 995.8C1447 996.6 1452.3 1000.4 1452.1 1005.4C1451.9 1010.4 1445.8 1012.1 1441.2 1014.1C1436.3 1016.2 1431.9 1016.1 1426.6 1016.2C1408 1016.5 1393.6 1015.1 1375 1015C1356.4 1014.9 1341.9 1015.8 1323.3 1015.8C1315.9 1015.8 1309.9 1016.8 1302.7 1015C1295.9 1013.3 1290 1011.6 1285.4 1006.4C1279.5 999.8 1277.5 992.5 1275 984C1272.8 976.8 1272.5 970.8 1272.5 963.3C1272.5 955.2 1273 948.8 1275 941C1276.5 935 1277.5 929.6 1282 925.4C1286.3 921.4 1291.6 920.6 1297.5 920C1312.7 918.5 1324.7 919.7 1340 919.6C1354.4 919.5 1365.6 919.4 1380 919.4C1396.6 919.4 1409.4 918.9 1426 919.4C1432.9 919.6 1438.4 919.3 1445 921.3Z" fill="#FEE4B0" stroke="#231815" stroke-width="4.2" stroke-linejoin="round"/>
<ellipse cx="1328.1" cy="967.6" rx="32.5" ry="19.8" transform="rotate(0 1328.1 967.6)" fill="#7A60A8" stroke="#231815" stroke-width="4.2"/>
<path d="M632.9 343.2C646.1 348.8 658.9 353.1 671.7 359.6C683.8 365.8 694.5 373.1 706 380.3C715 385.9 723.3 391.4 732 397.5C740.9 403.7 748.5 410.8 757.8 416.4C763.2 419.6 769 421.4 775 423.3C778.4 424.4 781.8 425.4 785.3 425C786.9 424.8 787.9 423 788.8 421.6C795.5 411.8 800.4 401.6 807.7 392.3C810.4 388.9 814 386.4 818 384.6C820.7 383.4 823.8 382.9 826.6 383.7C829.4 384.5 832.4 386.2 833.5 388.9C835.6 394.3 835.8 400.2 835.3 406C834.6 415 831 423 830 432C829.7 434.4 829.9 437.4 831.8 438.8C835.2 441.3 839.7 441.3 843.9 442.3C849.7 443.7 855.6 443.3 861 445.7C862.8 446.5 864.6 449.1 863.7 450.9C861.2 455.9 856.7 459.3 852.5 463C844.1 470.4 833.4 474.6 826.6 483.6C823 488.3 824.2 494.9 824 500.8C823.9 504.3 826.8 507.6 825.8 511C825.1 513.5 822.3 515.7 819.8 515.5C815.7 515.1 812.6 512 809.4 509.4C804.3 505.2 801.3 499.1 795.7 495.7C792.7 493.9 788.6 493.4 785.3 494.8C779.7 497.2 776.7 502.9 771.5 506C767.2 508.5 762.7 510.7 757.8 511C753 511.3 748.1 510.3 744 507.7C741.1 505.9 738.8 502.4 738.8 499C738.8 493.5 742.1 488.8 744 483.6C747.3 474.8 751.6 466.8 754.3 457.8C755.7 453.3 756.4 448.7 756 444C755.8 440.9 754.9 437.5 752.6 435.4C746.4 429.6 738.8 426.5 732 421.6C720.1 413.1 709.2 404.6 697.5 395.8C685.8 387 674.6 378.9 663 370C654.1 363.1 645.6 356.8 637.2 349.3C635.3 347.6 634.4 345.3 632.9 343.2Z" fill="#9DD8F5" stroke="#231815" stroke-width="4.2" stroke-linejoin="round"/>
<circle cx="797.4" cy="463" r="17.3" fill="#7A60A8" stroke="#231815" stroke-width="4.2"/>
<path d="M546.4 625.8C555.4 624.3 563.8 621.6 573 621.5C587.7 621.3 601.4 623.4 616 625C630.7 626.6 644.4 629 659 631C667.8 632.2 676.1 633.8 685 634.4C692.6 634.9 699.8 635.2 707.4 634.4C711.1 634 714.3 632.5 717.7 631C719 630.4 720.7 629.8 721 628.4C723.1 619.5 723.2 610.7 724.6 601.7C725.5 595.8 725 589.6 728 584.4C730.6 579.9 734.8 575.4 740 575C744.4 574.7 747.7 579.2 750.4 582.7C754.9 588.5 757.7 595 760.8 601.7C764.7 610.3 765.9 619.5 771 627.5C774.4 632.8 780.1 635.6 784.9 639.5C789.4 643.2 794.8 645.4 798.6 649.9C800.6 652.2 801.5 655.5 801 658.5C800.2 663.5 798.1 668.1 795 672C791.8 676 787.7 679.1 783 680.9C780.3 682 777.3 679.2 774.5 680C770.5 681.1 767.1 683.3 764 686C758.8 690.7 754.9 696.1 750.4 701.5C745.6 707.3 742.7 714.4 736.6 718.8C732.2 722 726.4 723.8 721 723C717.1 722.4 714.2 718.8 712.5 715.3C709.6 709.4 709 702.9 708 696.4C706.7 687.7 707.3 679.2 705.7 670.5C704.8 665.6 704.1 660.2 700.5 656.8C696.4 652.9 690.6 651.8 685 650.7C670.5 647.9 656.6 647.5 642 645.6C627.4 643.7 613.6 641.9 599 639.5C587.2 637.5 576 635.7 564.4 632.7C558.1 631 552.5 628.1 546.4 625.8Z" fill="#9DD8F5" stroke="#231815" stroke-width="4.2" stroke-linejoin="round"/>
<circle cx="749" cy="658.8" r="17.3" fill="#7A60A8" stroke="#231815" stroke-width="4.2"/>
<path d="M519 830.4C530.1 828.9 540.5 826 551.7 826C569.2 826 585.6 828.6 603 830.4C617.8 831.9 631.6 834.3 646.4 835.6C655.1 836.4 663.3 836.4 672 836.4C676.1 836.4 680 836.3 684 835.6C686.5 835.2 688.8 834.3 691 833C692.5 832.1 694.3 831.2 694.6 829.5C696 822.6 695.1 815.9 696 808.9C696.9 802.4 697.6 796.2 699.8 790C701.3 785.8 703.3 781.7 706.6 778.7C708.6 776.9 711.8 776.3 714.4 777C717.6 777.9 720.1 780.3 722 783C725.8 788.3 728.1 794.1 730.8 800C733.4 805.8 734.4 812 737.6 817.5C739.2 820.2 741.4 823.3 744.5 823.5C749.3 823.9 753.4 820.5 758 819C762.4 817.6 766.4 815 771 815C773 815 775.4 817 775.5 819C775.8 825 773.8 830.6 772 836.4C769.7 843.6 766.2 849.9 763.5 857C762.2 860.5 759.8 863.7 760 867.4C760.3 872.3 763.3 876.4 765 881C766.3 884.6 769 887.7 768.6 891.5C768.4 893.6 765.6 895 763.5 895C758.7 895 754.5 892.1 749.7 891.5C745.1 890.9 740.4 890 736 891.5C731.2 893.1 727.2 896.2 723.9 900C719.9 904.6 718.5 910.7 715 915.7C712.6 919.2 710.4 923.1 706.6 925C702.9 926.8 698.4 927.5 694.6 926C691.1 924.6 689 920.9 687.7 917.4C685.1 910.1 684.6 902.7 683.4 895C682.2 887.4 682.1 880.2 680.8 872.6C680.1 868.4 679.8 864 677.4 860.5C675.5 857.7 672.1 856.4 668.8 855.4C661.4 853.1 654.1 852.2 646.4 851C631.7 848.7 617.8 847 603 845C588.4 843 574.6 841.3 560 839C548.3 837.2 537.4 835.4 525.8 833C523.4 832.5 521.3 831.3 519 830.4Z" fill="#9DD8F5" stroke="#231815" stroke-width="4.2" stroke-linejoin="round"/>
<circle cx="722" cy="861.4" r="17.3" fill="#7A60A8" stroke="#231815" stroke-width="4.2"/>
<path d="M1132.3 384C1128.9 384.6 1125.6 386.5 1123.7 389.3C1121 393.3 1120.4 398.2 1119.4 403C1117.5 411.7 1116.6 420.1 1115 428.9C1114 434.7 1114 440.5 1111.7 446C1109.8 450.7 1106.3 454.2 1103 458C1099.2 462.4 1094.6 465.5 1091 470C1088.9 472.6 1086.2 475.5 1086.7 478.8C1087.5 483.6 1091 487.4 1094.4 490.9C1098.4 495.1 1102.9 498.3 1108 501C1110.1 502.1 1112.6 502.5 1115 502C1117 501.6 1117.9 498.5 1120 498.6C1124.4 498.9 1128.5 500.6 1132.3 503C1137.5 506.3 1141.3 510.9 1146 515C1150.7 519.1 1154.8 523.4 1160 527C1163.8 529.6 1167.5 532.2 1172 533C1176.6 533.8 1181.7 533.7 1185.7 531.3C1188.8 529.5 1190 525.4 1190.9 521.9C1192.4 516.2 1192.3 510.5 1192.6 504.6C1192.9 499.3 1192 494.3 1192.6 489C1193.1 484.8 1194.2 480.8 1196 477C1198.3 472 1202.1 468.2 1204.6 463.3C1206.8 458.8 1208.3 454.3 1209.8 449.5C1211 445.8 1213.6 442 1212.4 438.3C1211.4 435.4 1207.6 434.5 1204.6 434C1201.1 433.4 1197.7 434.3 1194.3 435C1190.7 435.8 1187.7 437.9 1184 438.3C1179.9 438.8 1176.1 437.9 1172 437.5C1169.6 437.3 1166.2 438.7 1165 436.6C1160.4 428.9 1160.1 419.9 1156.4 411.7C1153.6 405.4 1149.9 400 1146 394.4C1144 391.5 1141.8 388.8 1139 386.7C1137 385.2 1134.7 383.6 1132.3 384Z" fill="#9DD8F5" stroke="#231815" stroke-width="4.2" stroke-linejoin="round"/>
<circle cx="1149.5" cy="474.5" r="17.3" fill="#7A60A8" stroke="#231815" stroke-width="4.2"/>
<path d="M1185.7 670.5C1182.1 670.8 1179.1 673.6 1177 676.5C1174.2 680.5 1173.3 685.3 1172 690C1170.4 695.9 1169.4 701.5 1168.5 707.5C1167.4 714.4 1167.6 721.2 1166 728C1165.2 731.5 1164.9 736.2 1161.6 737.6C1157.7 739.2 1153.5 736.3 1149.5 735C1145.3 733.7 1141.6 731.7 1137.5 730C1133.4 728.2 1129.9 725 1125.4 724.7C1123.3 724.6 1120.5 727 1121 729C1122.1 733.1 1126.1 735.4 1129 738.5C1134.6 744.5 1140.7 749.4 1146 755.7C1150.1 760.5 1153.8 765.3 1156.4 771C1158.4 775.4 1158.8 780.2 1159 785C1159.2 789.7 1157.1 794.1 1157.3 798.8C1157.4 802.4 1158.6 805.7 1160 809C1160.7 810.5 1161.7 813 1163.3 812.5C1166.4 811.5 1168 808.3 1170 805.7C1173.3 801.3 1175.4 796.4 1178.8 792C1180.2 790.2 1181.7 787.3 1184 787.6C1187.5 788 1190 791.1 1192.6 793.6C1197.7 798.5 1201.3 804.2 1206.4 809C1210.1 812.4 1213.7 815.9 1218.4 817.7C1222.7 819.3 1227.4 819 1232 818.6C1235.1 818.4 1238.9 818.5 1240.8 816C1243.9 812.1 1244.5 806.9 1245 802C1245.7 795.1 1244.1 788.5 1244.3 781.5C1244.4 776.8 1244.4 772.2 1246 767.8C1248 762.1 1251.6 757.5 1254.6 752.3C1258 746.4 1261.9 741.1 1265 735C1267.5 729.9 1271.6 725.1 1271 719.5C1270.7 716.5 1265.9 716.3 1263 716C1258.4 715.5 1254 716.1 1249.4 717C1244.6 717.9 1240.5 720.4 1235.7 721.3C1231.7 722.1 1227.7 722.4 1223.6 722C1221.1 721.8 1218.1 721.5 1216.7 719.5C1213.1 714.3 1212.1 708.2 1209.8 702.3C1207.5 696.4 1205.8 690.6 1203 685C1201.1 681.2 1199.2 677.5 1196 674.8C1193.1 672.4 1189.5 670.2 1185.7 670.5Z" fill="#9DD8F5" stroke="#231815" stroke-width="4.2" stroke-linejoin="round"/>
<circle cx="1188.3" cy="762.6" r="17.3" fill="#7A60A8" stroke="#231815" stroke-width="4.2"/>
<path d="M797 372.1C795.9 373.5 794.5 374.2 794 375.9C793.5 377.4 793.7 378.8 794.4 380.2C795.5 382.3 796.9 383.5 798.7 385C800.8 386.8 802.9 387.7 805.2 389.3C807.6 390.9 809.5 392.1 811.7 394C813.4 395.5 815.1 396.6 816 398.7C816.6 400 816.3 401.5 815.5 402.6C814.7 403.6 813.4 404.1 812.1 403.9C810.2 403.6 809 402.3 807.4 401.3C805 399.8 803.2 398.5 800.9 397C798.6 395.5 797 393.8 794.4 392.7C792.2 391.8 790.4 391.4 788 391.4C786.7 391.4 785.2 391.5 784.5 392.7C783.8 393.9 784.2 395.4 785 396.6C786.4 398.7 788.2 399.7 790.1 401.3C792.4 403.2 794.3 404.5 796.6 406.5C798.7 408.3 800.4 409.6 802.2 411.7C803.2 412.9 804.2 413.9 804.3 415.5C804.4 416.5 803.6 417.5 802.6 417.7C801.2 418 799.9 417.5 798.7 416.8C796.3 415.3 794.8 413.6 792.7 411.7C790.2 409.5 788.5 407.5 785.8 405.6C784.1 404.4 782.7 403.6 780.7 403C779.4 402.6 778 402.3 776.8 403C775.9 403.5 775.7 404.6 775.9 405.6C776.2 407.2 777.1 408.3 778.1 409.5C779.9 411.7 781.6 413.2 783.7 415.1C785.9 417.1 787.9 418.3 790.1 420.3C792.6 422.6 794.3 424.7 796.6 427.2" fill="none" stroke="#E5005C" stroke-width="6.3" stroke-linecap="butt" stroke-linejoin="round"/>
<path d="M705.2 579.6C704.9 581.3 703.9 582.7 704.4 584.4C705 586.4 706.3 587.8 708.2 588.7C711.2 590.1 714 590 717.3 590.4C721.1 590.9 724.2 590.7 728 591.2C730.4 591.5 732.4 591.5 734.5 592.5C736.1 593.3 737.6 594.3 737.9 596C738.2 597.3 737 598.4 735.8 599C734 599.9 732.2 599.9 730.2 599.9C726.3 599.9 723.3 599.3 719.4 599C716.3 598.8 713.9 598.5 710.8 598.6C708.9 598.7 707.4 598.6 705.7 599.4C704.4 600 703.1 601 703.1 602.4C703.1 604 704.3 605.3 705.7 605.9C708.9 607.3 711.7 607 715.1 607.6C719 608.3 722.1 608.3 725.9 609.3C728.4 610 730.6 610.5 732.4 612.3C733.2 613.1 732.7 614.7 731.9 615.4C730.8 616.4 729.4 616.3 728 616.2C724.9 616 722.5 615.1 719.4 614.5C716.3 613.9 713.9 613.2 710.8 612.8C708.5 612.5 706.7 612.4 704.4 612.8C703.2 613 701.9 613.4 701.4 614.5C700.9 615.7 701.2 617.2 702.2 617.9C704.9 619.7 707.7 620 710.8 620.9C713.9 621.8 716.3 622.4 719.4 623.1C724.1 624.2 727.7 625 732.4 626.1" fill="none" stroke="#E5005C" stroke-width="6.3" stroke-linecap="butt" stroke-linejoin="round"/>
<path d="M682.6 780.3C682.5 782 681.6 783.5 682.2 785.1C683.1 787.3 684.4 789 686.5 790.2C689.3 791.8 691.9 791.9 695.1 792.4C699 793 702.1 792.4 705.9 793.2C708.4 793.7 710.4 794.2 712.4 795.8C713.4 796.6 713.8 798 713.6 799.3C713.4 800.5 712.7 801.7 711.5 801.9C708.7 802.5 706.5 801.6 703.7 801.4C699.1 801.1 695.5 800.6 690.8 800.6C688.2 800.6 686 800.4 683.5 801.4C682.3 801.9 681.2 803.1 681.4 804.4C681.6 806 682.9 807.3 684.4 807.9C688 809.4 691.3 809.2 695.1 810C698.2 810.6 700.7 810.8 703.7 811.8C705.7 812.5 707.6 813 708.9 814.8C709.6 815.7 708.9 817.1 708 817.8C706.7 818.7 705.3 818.7 703.7 818.6C700.6 818.4 698.2 817.5 695.1 816.9C692 816.3 689.6 815.6 686.5 815.2C684.5 815 682.8 814.5 680.9 815.2C679.8 815.6 678.9 816.7 679.2 817.8C679.5 819.3 680.8 820.1 682.2 820.8C685.1 822.3 687.7 822.8 690.8 823.8C693.9 824.8 696.3 825.3 699.4 826.4C702.5 827.5 704.9 828.6 708 829.8" fill="none" stroke="#E5005C" stroke-width="6.3" stroke-linecap="butt" stroke-linejoin="round"/>
<path d="M1162.5 387C1163.3 388.4 1164.4 389.3 1164.6 390.9C1164.8 392.5 1164.6 393.9 1163.7 395.2C1162.6 396.9 1161.1 397.7 1159.4 398.7C1157.2 400 1155.3 400.7 1153 401.7C1150.4 402.8 1148.2 403.4 1145.7 404.7C1143.6 405.7 1141.8 406.4 1140.1 408.1C1139.1 409.1 1138.6 410.3 1138.8 411.6C1139 412.9 1139.7 414.1 1140.9 414.6C1142.5 415.3 1144 415 1145.7 414.6C1148.4 414 1150.4 412.9 1153 412C1156.1 410.9 1158.5 410 1161.6 409C1163.9 408.3 1165.6 407.3 1168 407.3C1169.4 407.3 1170.8 407.8 1171.5 409C1172.1 410.1 1171.8 411.4 1171.1 412.4C1170.1 414 1168.8 414.9 1167.2 415.9C1164.6 417.5 1162.2 418 1159.4 419.3C1157.1 420.3 1155.2 421 1153 422.3C1151.3 423.2 1149.9 423.9 1148.7 425.4C1148 426.3 1147.3 427.4 1147.8 428.4C1148.3 429.5 1149.6 430 1150.8 430.1C1152.7 430.2 1154.2 429.5 1156 428.8C1158.9 427.6 1161 426.4 1163.7 424.9C1166.1 423.6 1167.8 422.3 1170.2 421C1171.7 420.2 1172.8 419.3 1174.5 419.3C1175.7 419.3 1177 419.8 1177.5 421C1178 422.3 1177.5 423.7 1176.7 424.9C1175.6 426.6 1174.1 427.5 1172.4 428.8C1170.2 430.5 1168.3 431.6 1165.9 433.1C1163.6 434.6 1161.7 435.5 1159.4 437C1157.1 438.5 1155.3 439.8 1153 441.3" fill="none" stroke="#E5005C" stroke-width="6.3" stroke-linecap="butt" stroke-linejoin="round"/>
<path d="M1205.5 678C1206.3 679.4 1207.4 680.3 1207.6 681.9C1207.8 683.5 1207.6 684.9 1206.7 686.2C1205.6 687.9 1204.1 688.7 1202.4 689.7C1200.2 691 1198.3 691.7 1196 692.7C1193.4 693.8 1191.2 694.4 1188.7 695.7C1186.6 696.7 1184.8 697.4 1183.1 699.1C1182.1 700.1 1181.6 701.3 1181.8 702.6C1182 703.9 1182.7 705.1 1183.9 705.6C1185.5 706.3 1187 706 1188.7 705.6C1191.4 705 1193.4 703.9 1196 703C1199.1 701.9 1201.5 701 1204.6 700C1206.9 699.3 1208.6 698.3 1211 698.3C1212.4 698.3 1213.8 698.8 1214.5 700C1215.1 701.1 1214.8 702.4 1214.1 703.4C1213.1 705 1211.8 705.9 1210.2 706.9C1207.6 708.5 1205.2 709 1202.4 710.3C1200.1 711.3 1198.2 712 1196 713.3C1194.3 714.2 1192.9 714.9 1191.7 716.4C1191 717.3 1190.3 718.4 1190.8 719.4C1191.3 720.5 1192.6 721 1193.8 721.1C1195.7 721.2 1197.2 720.5 1199 719.8C1201.9 718.6 1204 717.4 1206.7 715.9C1209.1 714.6 1210.8 713.3 1213.2 712C1214.7 711.2 1215.8 710.3 1217.5 710.3C1218.7 710.3 1220 710.8 1220.5 712C1221 713.3 1220.5 714.7 1219.7 715.9C1218.6 717.6 1217.1 718.5 1215.4 719.8C1213.2 721.5 1211.3 722.6 1208.9 724.1C1206.6 725.6 1204.7 726.5 1202.4 728C1200.1 729.5 1198.3 730.8 1196 732.3" fill="none" stroke="#E5005C" stroke-width="6.3" stroke-linecap="butt" stroke-linejoin="round"/>
<line x1="195.2" y1="309.5" x2="172" y2="387" stroke="#231815" stroke-width="24.4" stroke-linecap="round"/>
<line x1="195.2" y1="309.5" x2="172" y2="387" stroke="#F39C46" stroke-width="16.4" stroke-linecap="round"/>
<line x1="99.6" y1="384.6" x2="140.2" y2="491.6" stroke="#231815" stroke-width="24.4" stroke-linecap="round"/>
<line x1="99.6" y1="384.6" x2="140.2" y2="491.6" stroke="#F39C46" stroke-width="16.4" stroke-linecap="round"/>
<line x1="46.7" y1="473" x2="63.5" y2="524.8" stroke="#231815" stroke-width="24.4" stroke-linecap="round"/>
<line x1="46.7" y1="473" x2="63.5" y2="524.8" stroke="#F39C46" stroke-width="16.4" stroke-linecap="round"/>
<line x1="107" y1="516" x2="131.6" y2="593.5" stroke="#231815" stroke-width="24.4" stroke-linecap="round"/>
<line x1="107" y1="516" x2="131.6" y2="593.5" stroke="#F39C46" stroke-width="16.4" stroke-linecap="round"/>
<line x1="65.2" y1="545.7" x2="35.7" y2="655" stroke="#231815" stroke-width="24.4" stroke-linecap="round"/>
<line x1="65.2" y1="545.7" x2="35.7" y2="655" stroke="#F39C46" stroke-width="16.4" stroke-linecap="round"/>
<line x1="140.2" y1="634" x2="78.7" y2="680.9" stroke="#231815" stroke-width="24.4" stroke-linecap="round"/>
<line x1="140.2" y1="634" x2="78.7" y2="680.9" stroke="#F39C46" stroke-width="16.4" stroke-linecap="round"/>
<line x1="52.9" y1="705.5" x2="99.6" y2="767" stroke="#231815" stroke-width="24.4" stroke-linecap="round"/>
<line x1="52.9" y1="705.5" x2="99.6" y2="767" stroke="#F39C46" stroke-width="16.4" stroke-linecap="round"/>
<circle cx="604" cy="151" r="12.5" fill="#E60012" stroke="#231815" stroke-width="4.2"/>
<circle cx="695" cy="212.5" r="12.5" fill="#E60012" stroke="#231815" stroke-width="4.2"/>
<circle cx="443.5" cy="286" r="12.5" fill="#E60012" stroke="#231815" stroke-width="4.2"/>
<circle cx="254.5" cy="309" r="12.5" fill="#E60012" stroke="#231815" stroke-width="4.2"/>
<circle cx="330.5" cy="320" r="12.5" fill="#E60012" stroke="#231815" stroke-width="4.2"/>
<circle cx="563" cy="416" r="12.5" fill="#E60012" stroke="#231815" stroke-width="4.2"/>
<circle cx="774" cy="544" r="12.5" fill="#E60012" stroke="#231815" stroke-width="4.2"/>
<circle cx="288.5" cy="579" r="12.5" fill="#E60012" stroke="#231815" stroke-width="4.2"/>
<circle cx="209" cy="608.5" r="12.5" fill="#E60012" stroke="#231815" stroke-width="4.2"/>
<circle cx="356" cy="601.5" r="12.5" fill="#E60012" stroke="#231815" stroke-width="4.2"/>
<circle cx="684" cy="608" r="12.5" fill="#E60012" stroke="#231815" stroke-width="4.2"/>
<circle cx="156.5" cy="739" r="12.5" fill="#E60012" stroke="#231815" stroke-width="4.2"/>
<circle cx="267" cy="741.5" r="12.5" fill="#E60012" stroke="#231815" stroke-width="4.2"/>
<circle cx="369" cy="728" r="12.5" fill="#E60012" stroke="#231815" stroke-width="4.2"/>
<circle cx="566" cy="808" r="12.5" fill="#E60012" stroke="#231815" stroke-width="4.2"/>
<circle cx="863" cy="353.5" r="12.5" fill="#E60012" stroke="#231815" stroke-width="4.2"/>
<circle cx="343.5" cy="191" r="12.5" fill="#E886B4" stroke="#231815" stroke-width="4.2"/>
<circle cx="470.5" cy="186" r="12.5" fill="#E886B4" stroke="#231815" stroke-width="4.2"/>
<circle cx="813" cy="177" r="12.5" fill="#E886B4" stroke="#231815" stroke-width="4.2"/>
<circle cx="254.5" cy="438" r="12.5" fill="#E886B4" stroke="#231815" stroke-width="4.2"/>
<circle cx="417.5" cy="434" r="12.5" fill="#E886B4" stroke="#231815" stroke-width="4.2"/>
<circle cx="616.5" cy="421" r="12.5" fill="#E886B4" stroke="#231815" stroke-width="4.2"/>
<circle cx="770" cy="378.5" r="12.5" fill="#E886B4" stroke="#231815" stroke-width="4.2"/>
<circle cx="592" cy="541.5" r="12.5" fill="#E886B4" stroke="#231815" stroke-width="4.2"/>
<circle cx="183.5" cy="664.5" r="12.5" fill="#E886B4" stroke="#231815" stroke-width="4.2"/>
<circle cx="477.5" cy="668" r="12.5" fill="#E886B4" stroke="#231815" stroke-width="4.2"/>
<circle cx="815" cy="621" r="12.5" fill="#E886B4" stroke="#231815" stroke-width="4.2"/>
<circle cx="356" cy="789.5" r="12.5" fill="#E886B4" stroke="#231815" stroke-width="4.2"/>
<circle cx="660" cy="798" r="12.5" fill="#E886B4" stroke="#231815" stroke-width="4.2"/>
<circle cx="513.5" cy="909.5" r="12.5" fill="#E886B4" stroke="#231815" stroke-width="4.2"/>
<path d="M967 15V35.2M967 75.9V116.5M967 157.4V198.0M967 238.9V279.5M967 320.4V361.0M967 401.9V442.5M967 483.4V524.0M967 564.9V605.5M967 646.4V687.0M967 727.9V768.5M967 809.4V850.0M967 890.9V931.5M967 972.4V1013.0M967 1053.8V1073.8" stroke="#231815" stroke-width="12" fill="none"/>
<text x="311" y="81.5" font-size="46" fill="#231815" font-weight="400">乳酸・ピルビン酸（＋）</text>
<text x="1103" y="81.5" font-size="46" fill="#231815" font-weight="400">乳酸・ピルビン酸（ー）</text>
<text x="271.3" y="499.3" font-size="41.5" fill="#E4007F" font-weight="300" stroke="#E4007F" stroke-width="0.55" stroke-linejoin="round">ピルビン酸</text>
<text x="290.5" y="662.5" font-size="41.5" fill="#E60012" font-weight="300" stroke="#E60012" stroke-width="0.55" stroke-linejoin="round">乳酸</text>
<text x="144" y="849" font-size="41.5" fill="#E9591F" text-anchor="middle" font-weight="300" stroke="#E9591F" stroke-width="0.55" stroke-linejoin="round">乳酸菌などの</text>
<text x="143.5" y="893" font-size="41.5" fill="#E9591F" text-anchor="middle" font-weight="300" stroke="#E9591F" stroke-width="0.55" stroke-linejoin="round">腸内細菌</text>
<text x="219" y="977.5" font-size="41.5" fill="#231815" font-weight="300" stroke="#231815" stroke-width="0.55" stroke-linejoin="round">小腸上皮細胞</text>
<text x="673.2" y="773" font-size="40.2" fill="#C7007D" font-weight="700">GPR31</text>
<text x="1125" y="650.5" font-size="40.2" fill="#C7007D" font-weight="700">GPR31</text>
<text x="655.3" y="966.7" font-size="41.5" fill="#0054A7" font-weight="700" letter-spacing="0.3">マクロファージ</text>
<text x="978.5" y="865.5" font-size="41.5" fill="#0054A7" font-weight="700" letter-spacing="0.3">マクロファージ</text>
<text x="661.7" y="1091.5" font-size="41.7" fill="#231815" text-anchor="middle" font-weight="300" stroke="#231815" stroke-width="0.55" stroke-linejoin="round">マクロファージは効率よく</text>
<text x="661.7" y="1136.5" font-size="41.7" fill="#231815" text-anchor="middle" font-weight="300" stroke="#231815" stroke-width="0.55" stroke-linejoin="round">病原性細菌を取り込む</text>
<text x="661.7" y="1290.5" font-size="41.7" fill="#231815" text-anchor="middle" font-weight="300" stroke="#231815" stroke-width="0.55" stroke-linejoin="round">病原性細菌に対する</text>
<text x="661.7" y="1333.5" font-size="41.7" fill="#231815" text-anchor="middle" font-weight="300" stroke="#231815" stroke-width="0.55" stroke-linejoin="round">免疫反応が増加</text>
<text x="661.7" y="1501" font-size="41.7" fill="#231815" text-anchor="middle" font-weight="300" stroke="#231815" stroke-width="0.55" stroke-linejoin="round">病原性細菌に対する</text>
<text x="661.7" y="1543.5" font-size="41.7" fill="#231815" text-anchor="middle" font-weight="300" stroke="#231815" stroke-width="0.55" stroke-linejoin="round">抵抗性が増加</text>
<text x="1231" y="1091.5" font-size="41.7" fill="#231815" text-anchor="middle" font-weight="300" stroke="#231815" stroke-width="0.55" stroke-linejoin="round">マクロファージはうまく</text>
<text x="1231" y="1136.5" font-size="41.7" fill="#231815" text-anchor="middle" font-weight="300" stroke="#231815" stroke-width="0.55" stroke-linejoin="round">病原性細菌を取り込めない</text>
<text x="1220" y="1290.5" font-size="41.7" fill="#7B7B7B" text-anchor="middle" font-weight="300" stroke="#7B7B7B" stroke-width="0.55" stroke-linejoin="round">病原性細菌に対する</text>
<text x="1220" y="1333.5" font-size="41.7" fill="#7B7B7B" text-anchor="middle" font-weight="300" stroke="#7B7B7B" stroke-width="0.55" stroke-linejoin="round">免疫反応が増加</text>
<text x="1220" y="1501" font-size="41.7" fill="#7B7B7B" text-anchor="middle" font-weight="300" stroke="#7B7B7B" stroke-width="0.55" stroke-linejoin="round">病原性細菌に対する</text>
<text x="1220" y="1543.5" font-size="41.7" fill="#7B7B7B" text-anchor="middle" font-weight="300" stroke="#7B7B7B" stroke-width="0.55" stroke-linejoin="round">抵抗性が増加</text>
<path d="M643 1155H680.2V1196.9H707.1L661.6 1242.5L616.1 1196.9H643Z" fill="#EE7B4C"/>
<path d="M643 1357H680.2V1398.8H707.1L661.6 1444.2L616.1 1398.8H643Z" fill="#EE7B4C"/>
<path d="M1204.2 1147.9H1241.4V1190.1H1268.3L1222.8 1235.6L1177.3 1190.1H1204.2Z" fill="#EE7B4C"/>
<rect x="1179" y="1231.4" width="87.5" height="7.9" fill="#EE7B4C"/>
<path d="M1199.7 1357H1236.9V1398.8H1263.8L1218.3 1444L1172.8 1398.8H1199.7Z" fill="#959595"/>
<path d="M1136.4 1249.2L1124.2 1270.2L1298.8 1558.6L1311.2 1537.5Z" fill="#E60012"/>
<path d="M1298.8 1249.2L1311.9 1270.9L1136.3 1558.6L1123.9 1537.5Z" fill="#E60012"/>
</svg>
</body></html>
